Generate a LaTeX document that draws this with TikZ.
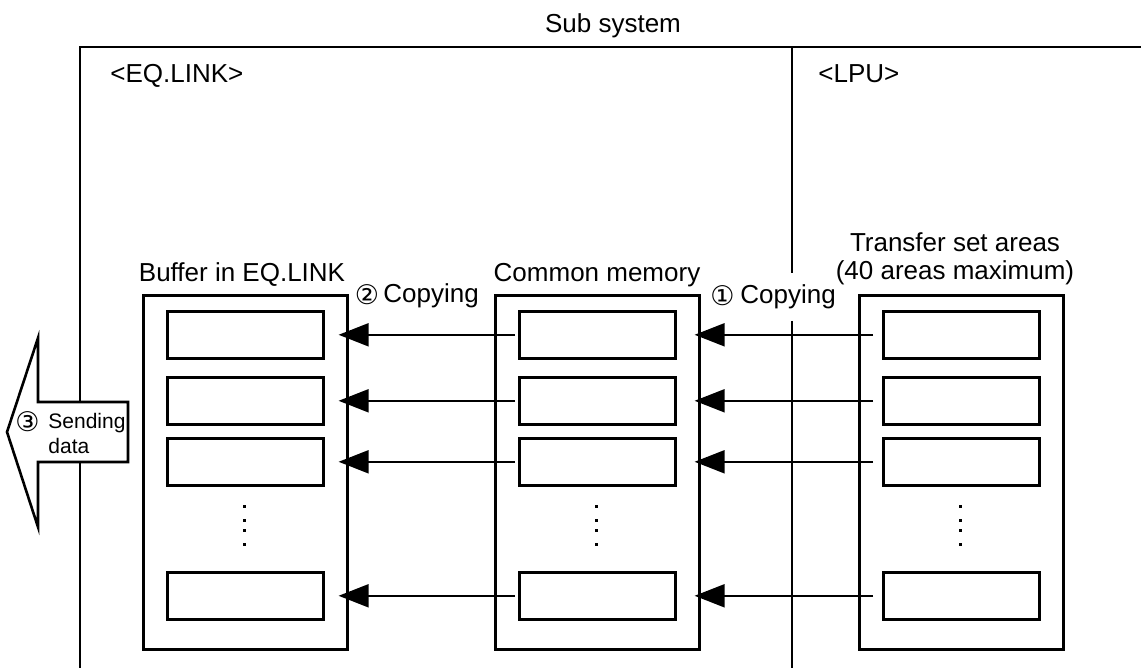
\documentclass[tikz,border=0pt]{standalone}
\usepackage{fontspec}
\setmainfont{Liberation Sans}
\newfontfamily\circfont{DejaVu Sans}
\usetikzlibrary{arrows.meta}

\begin{document}
\begin{tikzpicture}[x=0.5pt,y=-0.5pt,
  frame/.style={line width=1.3pt},
  outerbox/.style={draw,line width=1.3pt,anchor=north west,inner sep=0pt,
    minimum width=102pt,minimum height=177pt},
  slot/.style={draw,line width=1.3pt,anchor=north west,inner sep=0pt,
    minimum width=78pt,minimum height=23.5pt},
  flow/.style={line width=1pt,-{Triangle[length=15pt,width=11.5pt]}},
  label/.style={font=\fontsize{13}{15}\selectfont,inner sep=0pt},
  small/.style={font=\fontsize{10.5}{12}\selectfont,inner sep=0pt},
  circ/.style={font=\circfont\fontsize{13.5}{16}\selectfont,inner sep=0pt}]

\useasboundingbox (0,0) rectangle (1141,668);

% subsystem frame with the EQ.LINK / LPU split
\draw[frame] (80,668) -- (80,47) -- (1141,47);
\draw[frame] (792,47) -- (792,273);
\draw[frame] (792,321) -- (792,668);

% titles
\node[label,anchor=base] (sub) at (613,33) {Sub system};
\node[label,anchor=base west] (eq) at (110,83) {<EQ.LINK>};
\node[label,anchor=base west] (lpu) at (818,83) {<LPU>};

% the three memory columns
\foreach \col/\x in {b/142,c/494,t/858} {
  \node[outerbox] (\col) at (\x,294) {};
  \foreach \r/\y in {1/310,2/376,3/437,4/571}
    \node[slot] (\col\r) at (\x+24,\y) {};
  \foreach \d in {506,520,530,544}
    \fill (\x+100.5,\d-1.5) rectangle ++(3,3);
}

\node[label,anchor=base] (bt) at (242,282) {Buffer in EQ.LINK};
\node[label,anchor=base] (ct) at (597,282) {Common memory};
\node[label,anchor=base] (tt1) at (955,252) {Transfer set areas};
\node[label,anchor=base] (tt2) at (955,280) {(40 areas maximum)};

% copy steps
\node[circ] (n2) at (367,295) {②};
\node[label,anchor=base west] (cp2) at (383,303) {Copying};
\node[circ] (n1) at (722.5,296) {①};
\node[label,anchor=base west] (cp1) at (740,304) {Copying};

\foreach \r in {1,2,3,4} {
  \draw[flow,shorten <=1.5pt,shorten >=7pt] (c\r.west) -- (b\r.east);
  \draw[flow,shorten <=4.5pt,shorten >=9pt] (t\r.west) -- (c\r.east);
}

% outgoing data arrow
\draw[line width=1.3pt,fill=white,line join=miter]
  (7,432) -- (38,338) -- (38,402) -- (128,402) -- (128,462)
  -- (38,462) -- (38,527) -- cycle;
\node[circ] (n3) at (27.5,422) {③};
\node[small,anchor=base west] (snd) at (48,429) {Sending};
\node[small,anchor=base west] (dat) at (48,453) {data};
\end{tikzpicture}
\end{document}
